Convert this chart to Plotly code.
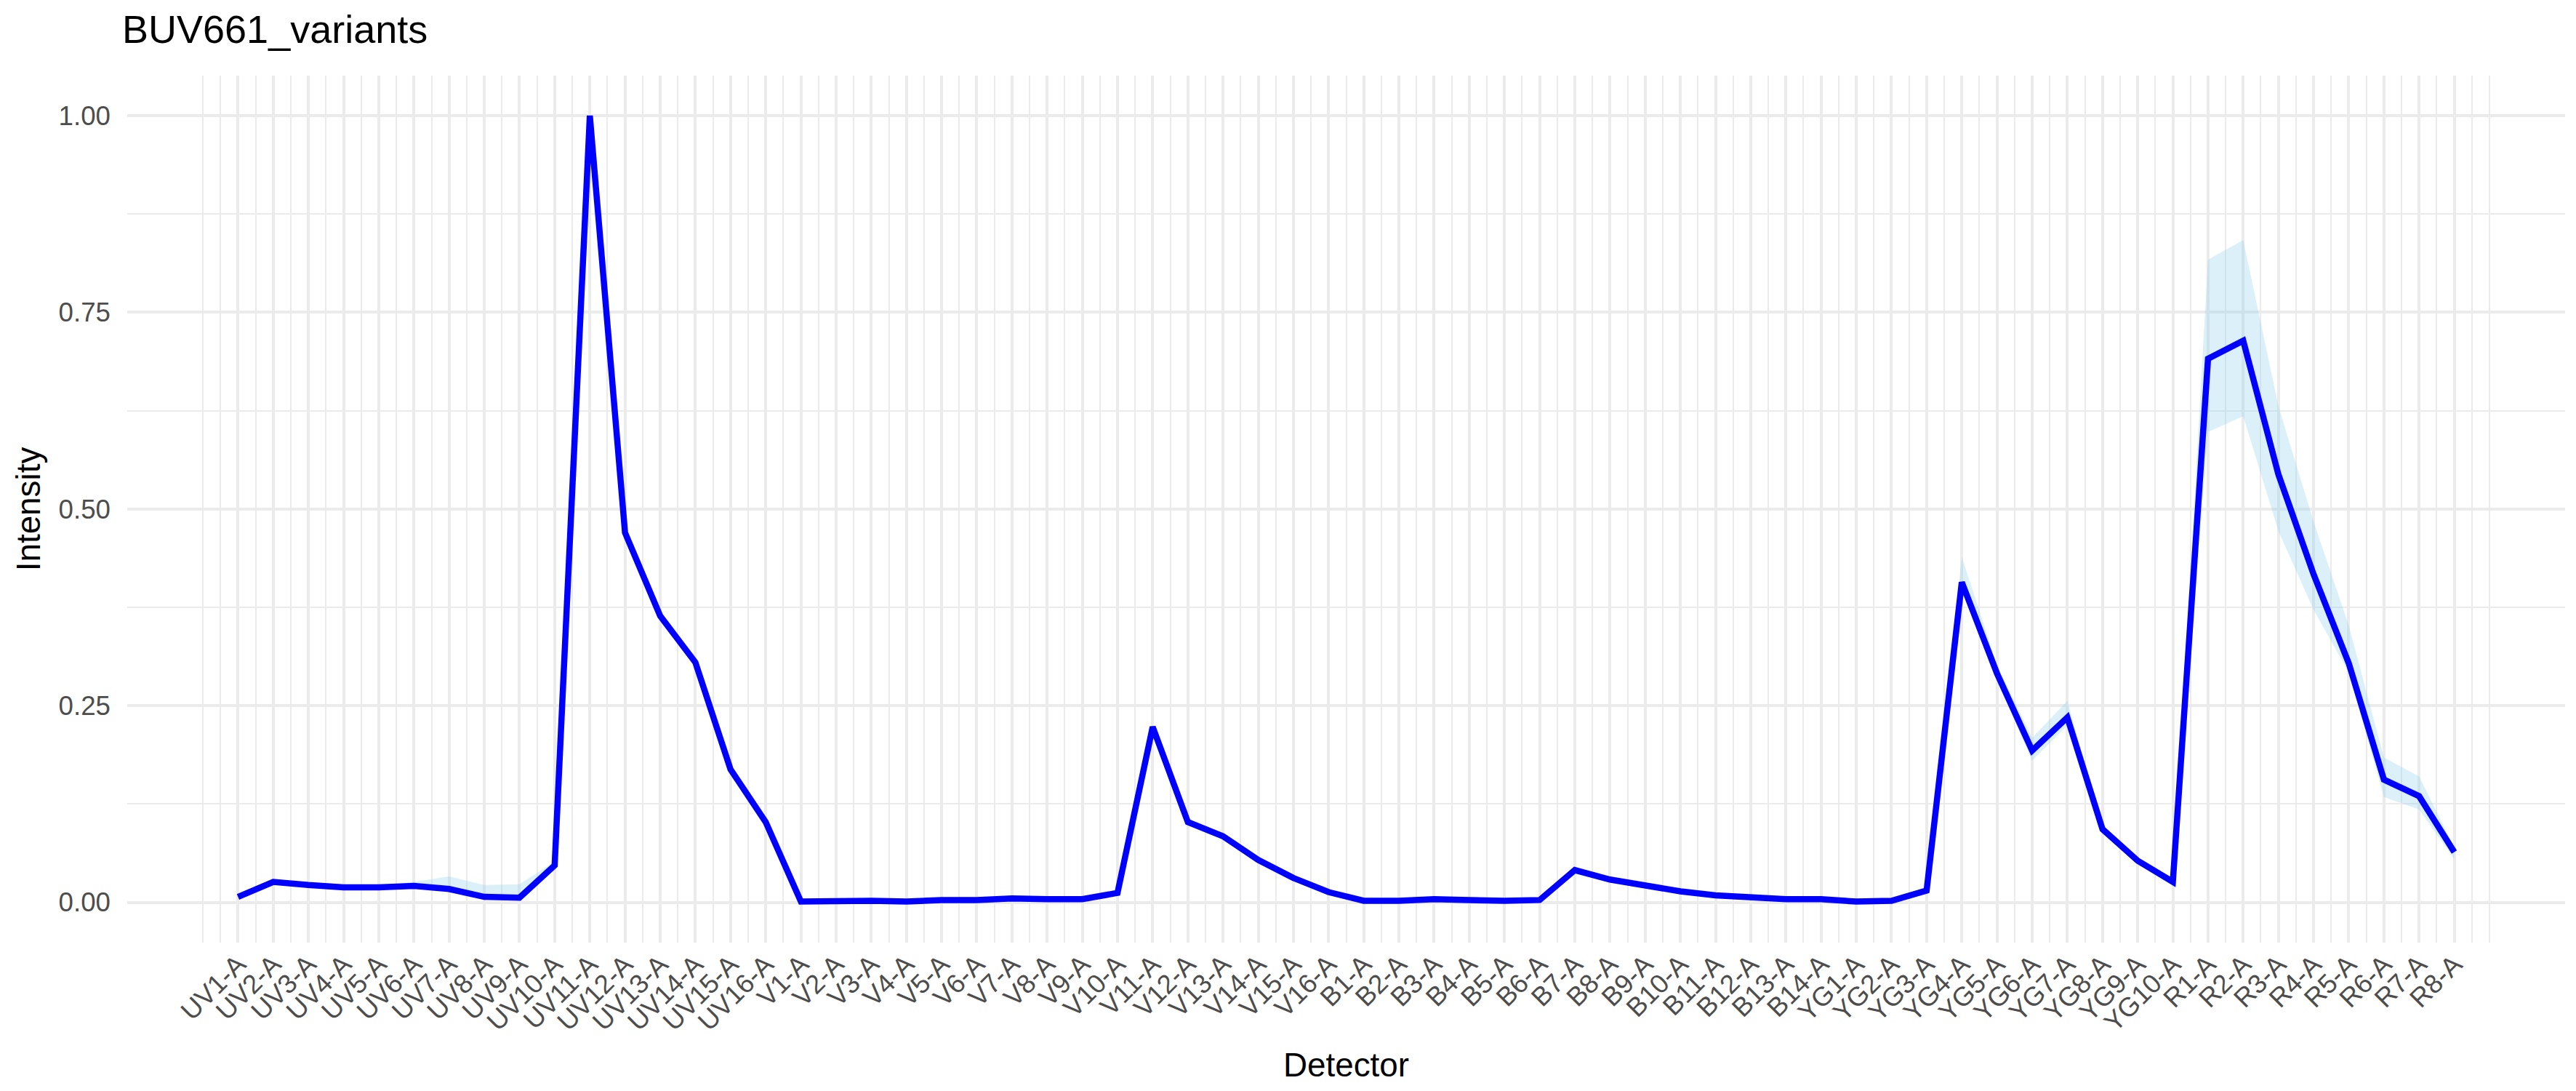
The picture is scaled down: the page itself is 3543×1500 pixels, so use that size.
import plotly.graph_objects as go

# ---- data ----
uv_detectors = [f"UV{i}-A" for i in range(1, 17)]
v_detectors = [f"V{i}-A" for i in range(1, 17)]
b_detectors = [f"B{i}-A" for i in range(1, 15)]
yg_detectors = [f"YG{i}-A" for i in range(1, 11)]
r_detectors = [f"R{i}-A" for i in range(1, 9)]
detectors = uv_detectors + v_detectors + b_detectors + yg_detectors + r_detectors

mean_uv = [0.007, 0.026, 0.022, 0.019, 0.019, 0.021, 0.017, 0.007, 0.006, 0.047,
           1.000, 0.470, 0.364, 0.305, 0.169, 0.102]
mean_v = [0.001, 0.002, 0.002, 0.001, 0.003, 0.003, 0.005, 0.004, 0.004, 0.012,
          0.223, 0.102, 0.084, 0.054, 0.031, 0.013]
mean_b = [0.002, 0.002, 0.004, 0.003, 0.002, 0.003, 0.041, 0.029, 0.022, 0.014,
          0.009, 0.006, 0.004, 0.004]
mean_yg = [0.001, 0.002, 0.015, 0.407, 0.291, 0.193, 0.235, 0.093, 0.053, 0.026]
mean_r = [0.691, 0.714, 0.544, 0.417, 0.304, 0.156, 0.135, 0.064]

upper_uv = [0.008, 0.028, 0.024, 0.021, 0.021, 0.026, 0.033, 0.022, 0.023, 0.052,
            1.000, 0.475, 0.368, 0.309, 0.172, 0.105]
upper_v = [0.002, 0.003, 0.003, 0.002, 0.004, 0.004, 0.006, 0.005, 0.005, 0.014,
           0.226, 0.105, 0.087, 0.056, 0.033, 0.015]
upper_b = [0.003, 0.003, 0.005, 0.004, 0.003, 0.004, 0.043, 0.031, 0.024, 0.016,
           0.011, 0.008, 0.006, 0.006]
upper_yg = [0.002, 0.003, 0.017, 0.439, 0.302, 0.209, 0.256, 0.097, 0.056, 0.028]
upper_r = [0.817, 0.842, 0.631, 0.484, 0.352, 0.184, 0.160, 0.070]

lower_uv = [0.005, 0.024, 0.020, 0.017, 0.017, 0.019, 0.015, 0.005, 0.004, 0.044,
            1.000, 0.465, 0.360, 0.301, 0.166, 0.099]
lower_v = [0.000, 0.001, 0.001, 0.000, 0.002, 0.002, 0.004, 0.003, 0.003, 0.010,
           0.220, 0.099, 0.081, 0.052, 0.029, 0.011]
lower_b = [0.001, 0.001, 0.003, 0.002, 0.001, 0.002, 0.039, 0.027, 0.020, 0.012,
           0.007, 0.004, 0.002, 0.002]
lower_yg = [0.000, 0.001, 0.013, 0.398, 0.283, 0.180, 0.225, 0.090, 0.050, 0.024]
lower_r = [0.598, 0.618, 0.472, 0.372, 0.292, 0.134, 0.118, 0.055]

y_ticks = [0.0, 0.25, 0.5, 0.75, 1.0]

mean_vals = mean_uv + mean_v + mean_b + mean_yg + mean_r
upper_vals = upper_uv + upper_v + upper_b + upper_yg + upper_r
lower_vals = lower_uv + lower_v + lower_b + lower_yg + lower_r
pos = list(range(1, len(detectors) + 1))

# minor vertical grid: midpoints plus one step beyond each end (ggplot style)
x_minor = [pos[0] - 1] + [p + 0.5 for p in [pos[0] - 1] + pos] + [pos[-1] + 1]

FONT = "Liberation Sans, Arial, sans-serif"
GRID = "#EBEBEB"

fig = go.Figure()
fig.add_trace(go.Scatter(x=pos, y=upper_vals, mode="lines", line=dict(width=0),
                         showlegend=False, hoverinfo="skip"))
fig.add_trace(go.Scatter(x=pos, y=lower_vals, mode="lines", line=dict(width=0),
                         fill="tonexty", fillcolor="rgba(135,206,235,0.3)",
                         showlegend=False, hoverinfo="skip"))
fig.add_trace(go.Scatter(x=pos, y=mean_vals, mode="lines",
                         line=dict(color="#0000FF", width=8.5),
                         showlegend=False))

fig.update_layout(
    width=3543, height=1500,
    margin=dict(l=167, r=23, t=96, b=212),
    paper_bgcolor="white", plot_bgcolor="white",
    font=dict(family=FONT),
    title=dict(text="BUV661_variants", x=160 / 3543, xanchor="left", xref="container",
               y=1 - 13 / 1500, yanchor="top", yref="container",
               font=dict(size=54, color="black", family=FONT)),
    showlegend=False,
)

fig.update_xaxes(
    type="linear", range=[-2.15, 67.15],
    tickmode="array", tickvals=pos, ticktext=detectors, tickangle=-45,
    tickfont=dict(size=36.7, color="#4D4D4D", family=FONT),
    ticks="", showline=False, zeroline=False,
    showgrid=True, gridcolor=GRID, gridwidth=4.4,
    minor=dict(tickmode="array", tickvals=x_minor, showgrid=True,
               gridcolor=GRID, gridwidth=2.2, ticks=""),
    title=dict(text="Detector", font=dict(size=45.8, color="black", family=FONT),
               standoff=22),
    automargin=False,
)
fig.update_yaxes(
    range=[-0.0512, 1.0509],
    tickmode="array", tickvals=y_ticks, tickformat=".2f",
    tickfont=dict(size=36.7, color="#4D4D4D", family=FONT),
    ticks="", showline=False, zeroline=False, ticklabelstandoff=22,
    showgrid=True, gridcolor=GRID, gridwidth=4.4,
    minor=dict(tickmode="linear", tick0=0, dtick=0.125, showgrid=True,
               gridcolor=GRID, gridwidth=2.2, ticks=""),
    title=dict(text="Intensity", font=dict(size=45.8, color="black", family=FONT),
               standoff=10),
    automargin=False,
)

fig.write_html("out.html")
